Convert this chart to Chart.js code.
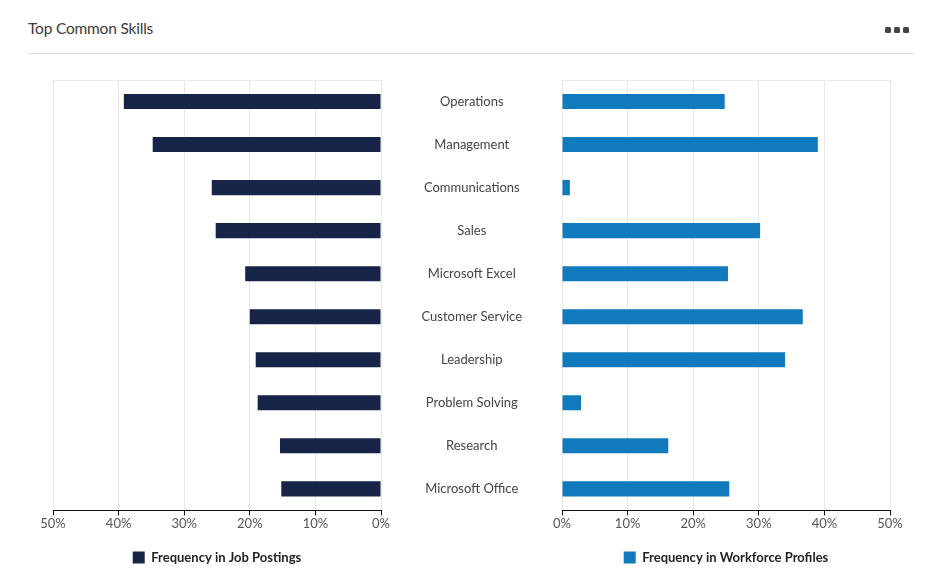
<!DOCTYPE html>
<html>
<head>
<meta charset="utf-8">
<script src="https://cdn.jsdelivr.net/npm/chart.js@4.4.0/dist/chart.umd.min.js"></script>
<style>
  body { margin: 0; background: #fff; font-family: Lato, "Open Sans", sans-serif; }
  #page { position: relative; width: 950px; height: 587px; overflow: hidden; }
  #title { position: absolute; left: 28px; top: 19px; font-size: 15.5px; color: #3a3a3a; letter-spacing: -0.2px; }
  #menu { position: absolute; left: 885px; top: 27px; line-height: 0; }
  #menu span { display: inline-block; width: 6px; height: 6px; border-radius: 1.5px; background: #444; margin-right: 3px; }
  #rule { position: absolute; left: 28px; top: 53px; width: 886px; height: 1px; background: #dcdcdc; }
  #leftBox { position: absolute; left: 0; top: 60px; width: 400px; height: 514px; }
  #rightBox { position: absolute; left: 380px; top: 60px; width: 550px; height: 514px; }
</style>
</head>
<body>
<div id="page">
  <div id="title">Top Common Skills</div>
  <div id="menu"><span></span><span></span><span></span></div>
  <div id="rule"></div>
  <div id="leftBox"><canvas id="leftChart"></canvas></div>
  <div id="rightBox"><canvas id="rightChart"></canvas></div>
</div>
<script>
// Datos del gráfico
const skills = ['Operations', 'Management', 'Communications', 'Sales', 'Microsoft Excel',
  'Customer Service', 'Leadership', 'Problem Solving', 'Research', 'Microsoft Office'];
const jobPostings = [39.2, 34.8, 25.8, 25.2, 20.7, 20.0, 19.1, 18.8, 15.4, 15.2];
const workforceProfiles = [24.8, 39.0, 1.2, 30.2, 25.3, 36.7, 34.0, 2.9, 16.2, 25.5];
const pctTicks = [0, 10, 20, 30, 40, 50];

Chart.defaults.font.family = 'Lato, "Open Sans", sans-serif';
Chart.defaults.font.size = 13;
Chart.defaults.color = '#555';

const gridColor = '#e8e8e8';

function xScale(reverse) {
    return {
        min: 0,
        max: 50,
        reverse: reverse,
        afterBuildTicks: (scale) => { scale.ticks = pctTicks.map(v => ({ value: v })); },
        ticks: { padding: 1, color: '#555', callback: (v) => v + '%' },
        grid: { color: gridColor, tickColor: '#111', tickLength: 5 },
        border: { color: '#111', width: 1 }
    };
}

function legendOpts() {
    return {
        position: 'bottom',
        fullSize: false,
        labels: {
            boxWidth: 12,
            boxHeight: 12,
            padding: 18,
            color: '#222',
            font: { size: 13, weight: 'bold' }
        }
    };
}

// Línea superior del área (solo la primera línea de la cuadrícula)
const topLineOnly = (ctx) => ctx.index === 0 ? gridColor : 'rgba(0,0,0,0)';

new Chart(document.getElementById('leftChart'), {
    type: 'bar',
    data: {
        labels: skills,
        datasets: [{
            label: 'Frequency in Job Postings',
            data: jobPostings,
            backgroundColor: '#152447',
            barPercentage: 0.35,
            categoryPercentage: 1
        }]
    },
    options: {
        indexAxis: 'y',
        responsive: true,
        maintainAspectRatio: false,
        animation: false,
        layout: { padding: { top: 20, left: 53, right: 19, bottom: 0 } },
        plugins: { legend: legendOpts(), tooltip: { enabled: false } },
        scales: {
            x: xScale(true),
            y: {
                ticks: { display: false },
                grid: { color: topLineOnly, drawTicks: false },
                border: { display: false },
                afterFit: (scale) => { scale.width = 0; }
            }
        }
    }
});

new Chart(document.getElementById('rightChart'), {
    type: 'bar',
    data: {
        labels: skills,
        datasets: [{
            label: 'Frequency in Workforce Profiles',
            data: workforceProfiles,
            backgroundColor: '#117abd',
            barPercentage: 0.35,
            categoryPercentage: 1
        }]
    },
    options: {
        indexAxis: 'y',
        responsive: true,
        maintainAspectRatio: false,
        animation: false,
        layout: { padding: { top: 20, left: 0, right: 40, bottom: 0 } },
        plugins: { legend: legendOpts(), tooltip: { enabled: false } },
        scales: {
            x: xScale(false),
            y: {
                ticks: { crossAlign: 'center', padding: 40, color: '#444', font: { size: 13 } },
                grid: { color: topLineOnly, drawTicks: false },
                border: { display: false },
                afterFit: (scale) => {
                    // las etiquetas van en el centro, entre los dos gráficos
                    scale.width = 182;
                    scale.paddingTop = 0;
                    scale.paddingBottom = 0;
                }
            }
        }
    }
});
</script>
</body>
</html>
